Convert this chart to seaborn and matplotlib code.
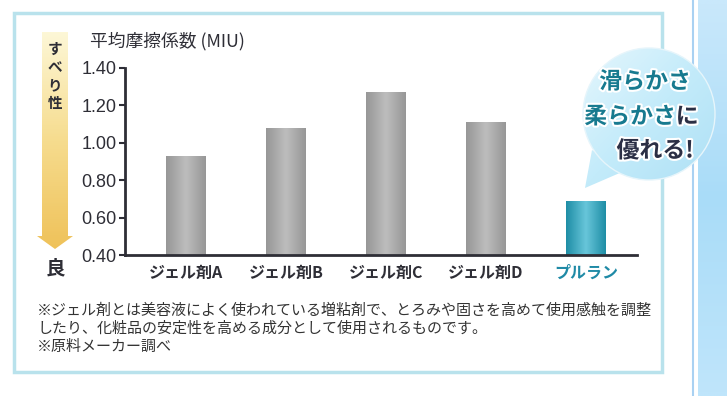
import numpy as np
import pandas as pd
import seaborn as sns
import matplotlib.pyplot as plt
from matplotlib.colors import LinearSegmentedColormap
from matplotlib.patches import Rectangle, Polygon, Circle
import matplotlib.patheffects as pe

# data
categories = ["ジェル剤A", "ジェル剤B", "ジェル剤C", "ジェル剤D", "プルラン"]
miu = [0.93, 1.08, 1.27, 1.11, 0.69]
yticks = [0.40, 0.60, 0.80, 1.00, 1.20, 1.40]
ytick_labels = ["0.40", "0.60", "0.80", "1.00", "1.20", "1.40"]
title = "平均摩擦係数 (MIU)"
axis_hint = "すべり性"
good = "良"
bubble_lines = ["滑らかさ", "柔らかさ", "優れる!"]
notes = ["※ジェル剤とは美容液によく使われている増粘剤で、とろみや固さを高めて使用感触を調整",
         "したり、化粧品の安定性を高める成分として使用されるものです。",
         "※原料メーカー調べ"]

W, H = 727, 396
JP = ["Noto Sans CJK JP", "DejaVu Sans"]
NUM = ["Liberation Sans", "DejaVu Sans"]
DARK = "#2e2e36"
TEAL = "#1f8aa6"

sns.set_theme(style="white")
plt.rcParams["font.family"] = JP


def fx(x):
    return x / W


def fy(y):
    return 1 - y / H


fig = plt.figure(figsize=(W / 100, H / 100), dpi=100, facecolor="white")

# pixel-coordinate overlay for the decorations
deco = fig.add_axes([0, 0, 1, 1], zorder=0)
deco.axis("off")

# outer frame
deco.add_patch(Rectangle((14, 13), 648, 359, fill=False, ec="#b9e2ec", lw=2.5))
# right backdrop
deco.plot([693, 693], [0, H], color="#a9d1f2", lw=1.5)
bg = np.linspace(0, 1, 50).reshape(-1, 1) * np.ones((1, 10))
deco.imshow(bg, extent=[698, W, H, 0], aspect="auto",
            cmap=LinearSegmentedColormap.from_list("bg", ["#c9e8fb", "#a9dcf8", "#bfe5fb"]))

# gradient arrow on the left
arrow = Polygon([(42, 32), (68, 32), (68, 236), (73, 236), (55, 249), (37, 236), (42, 236)],
                closed=True, fc="none", ec="none")
deco.add_patch(arrow)
grad = np.linspace(0, 1, 100).reshape(-1, 1) * np.ones((1, 5))
im = deco.imshow(grad, extent=[37, 73, 249, 32], aspect="auto", origin="upper",
                 cmap=LinearSegmentedColormap.from_list("ar", ["#fdf7d6", "#f6dc8e", "#efc25a"]))
im.set_clip_path(arrow)
deco.set_xlim(0, W)
deco.set_ylim(H, 0)

# bar chart
ax = fig.add_axes([fx(125), fy(255), fx(637) - fx(125), fy(68) - fy(255)], zorder=1)
ax.patch.set_alpha(0)
df = pd.DataFrame({"cat": categories, "miu": miu})
sns.barplot(data=df, x="cat", y="miu", hue="cat", palette=["#aaaaaa"] * 4 + [TEAL],
            width=0.4, legend=False, ax=ax)
ax.set_xlim(-0.61, 4.51)
ax.set_ylim(0.40, 1.40)

gray = LinearSegmentedColormap.from_list("g", ["#979797", "#bdbdbd", "#979797"])
teal = LinearSegmentedColormap.from_list("t", ["#1f8ea6", "#68c6da", "#1f8ea6"])
row = np.linspace(0, 1, 60).reshape(1, -1)
ybot = ax.get_ylim()[0]
for i, p in enumerate(ax.patches):
    x0, y0 = p.get_x(), p.get_y()
    w, h = p.get_width(), p.get_height()
    p.set_edgecolor("none")
    g = ax.imshow(row, extent=[x0, x0 + w, max(y0, ybot), y0 + h], aspect="auto",
                  cmap=teal if i == len(categories) - 1 else gray, zorder=p.get_zorder() + 0.1)
    g.set_clip_path(p)

ax.set_xlim(-0.61, 4.51)
ax.set_ylim(0.40, 1.40)
ax.set_yticks(yticks)
ax.set_yticklabels(ytick_labels, family=NUM, fontsize=13, color=DARK)
ax.set_xticks(range(len(categories)))
ax.set_xticklabels(categories, fontsize=11.5, fontweight="bold", color=DARK)
ax.get_xticklabels()[-1].set_color(TEAL)
ax.set_xlabel("")
ax.set_ylabel("")
sns.despine(ax=ax)
for s in ["left", "bottom"]:
    ax.spines[s].set_color(DARK)
    ax.spines[s].set_linewidth(2)
ax.tick_params(axis="y", direction="out", length=4, width=1.5, color=DARK, pad=2, left=True)
ax.tick_params(axis="x", length=0, pad=7)

# texts around the chart
fig.text(fx(90), fy(41), title, fontsize=12.8, color=DARK, va="center", ha="left")
fig.text(fx(55), fy(76), "\n".join(axis_hint), fontsize=10.5, fontweight="bold",
         color=DARK, ha="center", va="center", linespacing=1.15)
fig.text(fx(55), fy(269), good, fontsize=14, fontweight="bold", color=DARK,
         ha="center", va="center")
for k, line in enumerate(notes):
    fig.text(fx(37), fy(311 + 18 * k), line, fontsize=10.8, color="#333333",
             ha="left", va="center")

# speech bubble on top
bub = fig.add_axes([0, 0, 1, 1], zorder=3)
bub.axis("off")
circ = Circle((649, 114), 66, fc="none", ec="none")
tail = Polygon([(592, 150), (585, 188), (622, 172)], closed=True, fc="none", ec="none")
bub.add_patch(circ)
bub.add_patch(tail)
bgrad = np.linspace(0, 1, 80).reshape(-1, 1) * np.ones((1, 80)) * 0.5 + \
    np.linspace(0, 1, 80).reshape(1, -1) * 0.5
cm_b = LinearSegmentedColormap.from_list("b", ["#e4f6fd", "#c3ebfa", "#aee0f5"])
for shp in (circ, tail):
    bi = bub.imshow(bgrad, extent=[583, 715, 188, 48], aspect="auto", cmap=cm_b)
    bi.set_clip_path(shp)
bub.add_patch(Circle((649, 114), 66, fc="none", ec="#e6f5fb", lw=1))
bub.set_xlim(0, W)
bub.set_ylim(H, 0)
stroke = [pe.withStroke(linewidth=3, foreground="white")]
bub.text(645, 82, bubble_lines[0], fontsize=16.5, fontweight="bold", color="#177a8f",
         ha="center", va="center", path_effects=stroke)
t2 = bub.text(630, 117, bubble_lines[1], fontsize=16.5, fontweight="bold", color="#177a8f",
              ha="center", va="center", path_effects=stroke)
bub.annotate("に", xycoords=t2, xy=(1, 0.5), va="center", ha="left", fontsize=16.5,
             fontweight="bold", color="#2b2f45", path_effects=stroke)
bub.text(655, 151, bubble_lines[2], fontsize=16.5, fontweight="bold", color="#2b2f45",
         ha="center", va="center", path_effects=stroke)

fig.savefig("out.png", dpi=100, facecolor="white")
